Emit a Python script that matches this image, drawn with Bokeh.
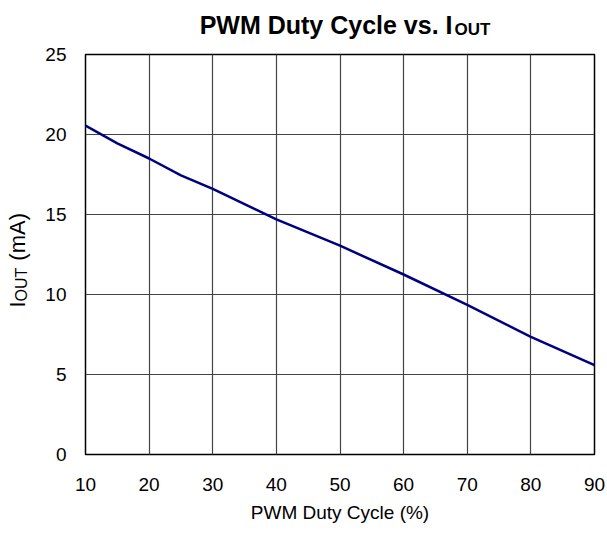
from bokeh.plotting import figure
from bokeh.models import Range1d, FixedTicker, Label
from bokeh.layouts import column, row
from bokeh.embed import file_html
from bokeh.resources import INLINE
import math

# ---- data ----
duty = [10, 15, 20, 25, 30, 35, 40, 50, 60, 70, 80, 90]
iout = [20.55, 19.45, 18.5, 17.45, 16.6, 15.65, 14.7, 13.05, 11.25, 9.35, 7.35, 5.58]

x_ticks = [10, 20, 30, 40, 50, 60, 70, 80, 90]
y_ticks = [0, 5, 10, 15, 20, 25]

title_main = "PWM Duty Cycle vs. I"
title_sub = "OUT"
ylabel_main = "I"
ylabel_sub = "OUT"
ylabel_unit = "(mA)"
xlabel = "PWM Duty Cycle (%)"

FONT = "Liberation Sans"

TOTAL_W, TOTAL_H = 607, 534
TITLE_H = 40
YLAB_W = 40


def blank(width, height):
    f = figure(width=width, height=height, output_backend="svg", toolbar_location=None,
               x_axis_type=None, y_axis_type=None, title=None,
               min_border=0, min_border_left=0, min_border_right=0,
               min_border_top=0, min_border_bottom=0, sizing_mode="fixed")
    f.outline_line_color = None
    f.background_fill_color = "white"
    f.border_fill_color = "white"
    return f


# ---- title strip (title with subscript) ----
t = blank(TOTAL_W, TITLE_H)
t.add_layout(Label(x=452, y=16, x_units="screen", y_units="screen", text=title_main,
                   text_align="right", text_baseline="alphabetic", text_font=FONT,
                   text_font_style="bold", text_font_size="25px", text_color="black"))
t.add_layout(Label(x=454, y=11, x_units="screen", y_units="screen", text=title_sub,
                   text_align="left", text_baseline="alphabetic", text_font=FONT,
                   text_font_style="bold", text_font_size="17px", text_color="black"))

# ---- y label strip (label with subscript) ----
yl = blank(YLAB_W, TOTAL_H - TITLE_H)
yl.add_layout(Label(x=16.7, y=153, x_units="screen", y_units="screen", text=ylabel_main,
                    angle=math.pi / 2, text_align="right", text_baseline="alphabetic",
                    text_font=FONT, text_font_size="22px", text_color="black"))
yl.add_layout(Label(x=21, y=153, x_units="screen", y_units="screen", text=ylabel_sub,
                    angle=math.pi / 2, text_align="left", text_baseline="alphabetic",
                    text_font=FONT, text_font_size="16px", text_color="black"))
yl.add_layout(Label(x=16.7, y=193.8, x_units="screen", y_units="screen", text=ylabel_unit,
                    angle=math.pi / 2, text_align="left", text_baseline="alphabetic",
                    text_font=FONT, text_font_size="22px", text_color="black"))

# ---- main plot ----
MW, MH = TOTAL_W - YLAB_W, TOTAL_H - TITLE_H
p = figure(width=MW, height=MH, output_backend="svg", toolbar_location=None,
           x_range=Range1d(10, 90), y_range=Range1d(0, 25),
           min_border_left=45, min_border_right=13,
           min_border_top=14, min_border_bottom=80, sizing_mode="fixed")
p.background_fill_color = "white"
p.border_fill_color = "white"
p.outline_line_color = "black"
p.outline_line_width = 1.5

p.line(duty, iout, line_color="#000080", line_width=2.5)

p.xaxis.ticker = FixedTicker(ticks=x_ticks)
p.yaxis.ticker = FixedTicker(ticks=y_ticks)
for ax in (p.xaxis[0], p.yaxis[0]):
    ax.major_tick_in = 0
    ax.major_tick_out = 0
    ax.minor_tick_in = 0
    ax.minor_tick_out = 0
    ax.axis_line_color = None
    ax.major_label_text_font = FONT
    ax.major_label_text_font_size = "19px"
    ax.major_label_text_color = "black"
p.xaxis.major_label_standoff = 23
p.yaxis.major_label_standoff = 19
p.xaxis.axis_label = xlabel
p.xaxis.axis_label_text_font = FONT
p.xaxis.axis_label_text_font_style = "normal"
p.xaxis.axis_label_text_font_size = "19px"
p.xaxis.axis_label_text_color = "black"
p.xaxis.axis_label_standoff = 8

p.xgrid.ticker = FixedTicker(ticks=x_ticks)
p.ygrid.ticker = FixedTicker(ticks=y_ticks)
for g in (p.xgrid[0], p.ygrid[0]):
    g.grid_line_color = "#444444"
    g.grid_line_width = 1.2

layout = column(t, row(yl, p, sizing_mode="fixed"), sizing_mode="fixed")
open("out.html", "w").write(file_html(layout, INLINE))
